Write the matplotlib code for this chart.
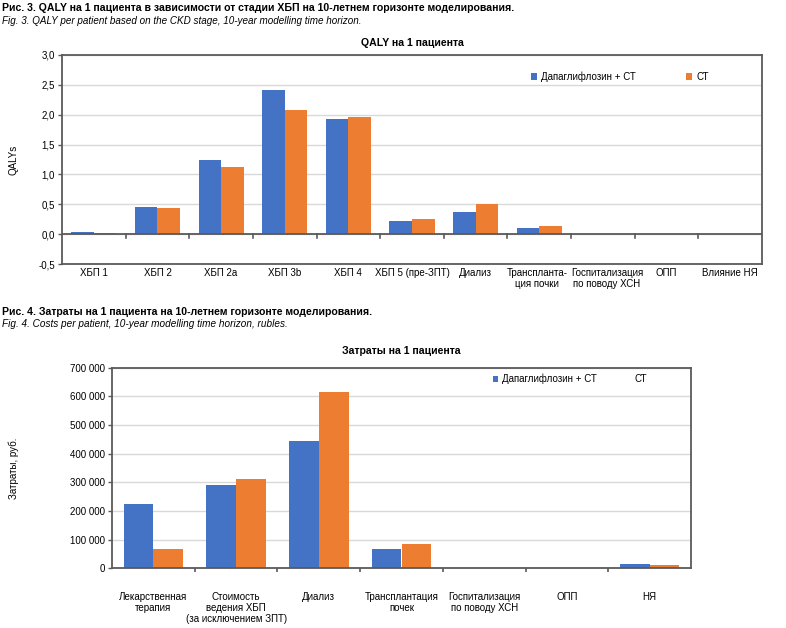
import matplotlib
matplotlib.use("Agg")
import matplotlib.pyplot as plt
from matplotlib import font_manager
from matplotlib.patches import Patch
import matplotlib.transforms as mtransforms
import numpy as np

# ---- data -------------------------------------------------------------
qaly_cats = ["ХБП 1", "ХБП 2", "ХБП 2a", "ХБП 3b", "ХБП 4", "ХБП 5 (пре-ЗПТ)",
             "Диализ", "Трансплanta-\nция почки".replace("anta", "анта"),
             "Госпитализация\nпо поводу ХСН", "ОПП", "Влияние НЯ"]
qaly_dapa = [0.04, 0.46, 1.25, 2.42, 1.93, 0.22, 0.37, 0.10, 0.0, 0.0, 0.0]
qaly_st = [0.02, 0.44, 1.12, 2.08, 1.97, 0.26, 0.51, 0.14, 0.0, 0.0, 0.0]

cost_cats = ["Лекарственная\nтерапия", "Стоимость\nведения ХБП\n(за исключением ЗПТ)",
             "Диализ", "Трансплантация\nпочек", "Госпитализация\nпо поводу ХСН",
             "ОПП", "НЯ"]
cost_dapa = [224000, 291000, 445000, 66000, 0, 0, 14000]
cost_st = [66000, 310000, 614000, 86000, 0, 1500, 11000]

series_names = ["Дапаглифлозин + СТ", "СТ"]

BLUE = "#4472C4"
ORANGE = "#ED7D31"
GRID = "#d9d9d9"
SPINE = "#5a5a5a"

names = {f.name for f in font_manager.fontManager.ttflist}
FONT = "Liberation Sans" if "Liberation Sans" in names else "DejaVu Sans"
NARROW = "Liberation Sans Narrow" if "Liberation Sans Narrow" in names else FONT
plt.rcParams["font.family"] = [FONT, "DejaVu Sans"]

fig = plt.figure(figsize=(7.86, 6.28), dpi=100)


def style_axes(ax):
    for s in ax.spines.values():
        s.set_color(SPINE)
        s.set_linewidth(1.3)
    ax.set_axisbelow(True)
    ax.yaxis.grid(True, color=GRID, linewidth=1.0)
    ax.tick_params(axis="y", length=3, width=1, color=SPINE, labelsize=7, pad=2)


# ---- Fig. 3 -----------------------------------------------------------
fig.text(0.003, 1 - 8 / 628, "Рис. 3. QALY на 1 пациента в зависимости от стадии ХБП "
         "на 10-летнем горизонте моделирования.", fontsize=7.6, fontweight="bold",
         family=[NARROW, FONT], va="center", ha="left")
fig.text(0.003, 1 - 21 / 628, "Fig. 3. QALY per patient based on the CKD stage, "
         "10-year modelling time horizon.", fontsize=7.15, style="italic",
         family=[NARROW, FONT], va="center", ha="left")

ax1 = fig.add_axes([62 / 786, 1 - 264 / 628, 700 / 786, 209 / 628])
style_axes(ax1)
x = np.arange(len(qaly_cats))
w = 0.355
ax1.bar(x - w / 2, qaly_dapa, w, color=BLUE, label=series_names[0])
ax1.bar(x + w / 2, qaly_st, w, color=ORANGE, label=series_names[1])
ax1.axhline(0, color=SPINE, linewidth=1.3)
ax1.set_xlim(-0.5, len(qaly_cats) - 0.5)
ax1.set_ylim(-0.5, 3.0)
yt = np.arange(-0.5, 3.01, 0.5)
ax1.set_yticks(yt)
ax1.set_yticklabels([f"{v:.1f}".replace(".", ",") for v in yt])
ax1.set_xticks(x)
ax1.set_xticklabels(qaly_cats, fontsize=7, linespacing=1.1)
ax1.tick_params(axis="x", length=0, pad=3)
# Excel nudged the two long neighbouring labels apart
lbls = ax1.get_xticklabels()
lbls[7].set_transform(lbls[7].get_transform()
                      + mtransforms.ScaledTranslation(-2 / 100, 0, fig.dpi_scale_trans))
lbls[8].set_transform(lbls[8].get_transform()
                      + mtransforms.ScaledTranslation(4 / 100, 0, fig.dpi_scale_trans))
# boundary tick marks on the zero line
trans = mtransforms.blended_transform_factory(ax1.transData, ax1.transAxes)
y0 = 0.5 / 3.5
for b in x[:-1] + 0.5:
    ax1.plot([b, b], [y0 - 0.018, y0], color=SPINE, linewidth=1.2,
             transform=trans, clip_on=False)
ax1.set_ylabel("QALYs", fontsize=7, labelpad=14)
ax1.set_title("QALY на 1 пациента", fontsize=7.6, fontweight="bold", pad=6.5)
ax1.legend(loc="center", bbox_to_anchor=(0.797, 0.896), ncol=2,
           frameon=False, fontsize=7, handlelength=0.6, handleheight=0.6,
           handletextpad=0.4, columnspacing=5.2)

# ---- Fig. 4 -----------------------------------------------------------
fig.text(0.003, 1 - 312 / 628, "Рис. 4. Затраты на 1 пациента на 10-летнем "
         "горизонте моделирования.", fontsize=7.6, fontweight="bold",
         family=[NARROW, FONT], va="center", ha="left")
fig.text(0.003, 1 - 324 / 628, "Fig. 4. Costs per patient, 10-year modelling "
         "time horizon, rubles.", fontsize=7.2, style="italic",
         family=[NARROW, FONT], va="center", ha="left")

ax2 = fig.add_axes([112 / 786, 1 - 568.3 / 628, 579 / 786, 200.6 / 628])
style_axes(ax2)
x2 = np.arange(len(cost_cats))
w2 = 0.36
ax2.bar(x2 - w2 / 2, cost_dapa, w2, color=BLUE)
ax2.bar(x2 + w2 / 2, cost_st, w2, color=ORANGE)
ax2.set_xlim(-0.5, len(cost_cats) - 0.5)
ax2.set_ylim(0, 700000)
yt2 = np.arange(0, 700001, 100000)
ax2.set_yticks(yt2)
ax2.set_yticklabels([f"{int(v):,}".replace(",", " ") for v in yt2])
ax2.set_xticks(x2)
ax2.set_xticklabels(cost_cats, fontsize=7, linespacing=1.15)
ax2.tick_params(axis="x", which="major", length=0, pad=17)
ax2.set_xticks(x2[:-1] + 0.5, minor=True)
ax2.tick_params(axis="x", which="minor", length=3, width=1.2, color=SPINE)
ax2.set_ylabel("Затраты, руб.", fontsize=7, labelpad=37)
ax2.set_title("Затраты на 1 пациента", fontsize=7.6, fontweight="bold", pad=10)
# in the source the second legend swatch is not visible
handles2 = [Patch(facecolor=BLUE), Patch(facecolor="none", edgecolor="none")]
ax2.legend(handles2, series_names, loc="center", bbox_to_anchor=(0.791, 0.944),
           ncol=2, frameon=False, fontsize=7, handlelength=0.6, handleheight=0.6,
           handletextpad=0.4, columnspacing=2.9)

fig.savefig("out.png", dpi=100)
